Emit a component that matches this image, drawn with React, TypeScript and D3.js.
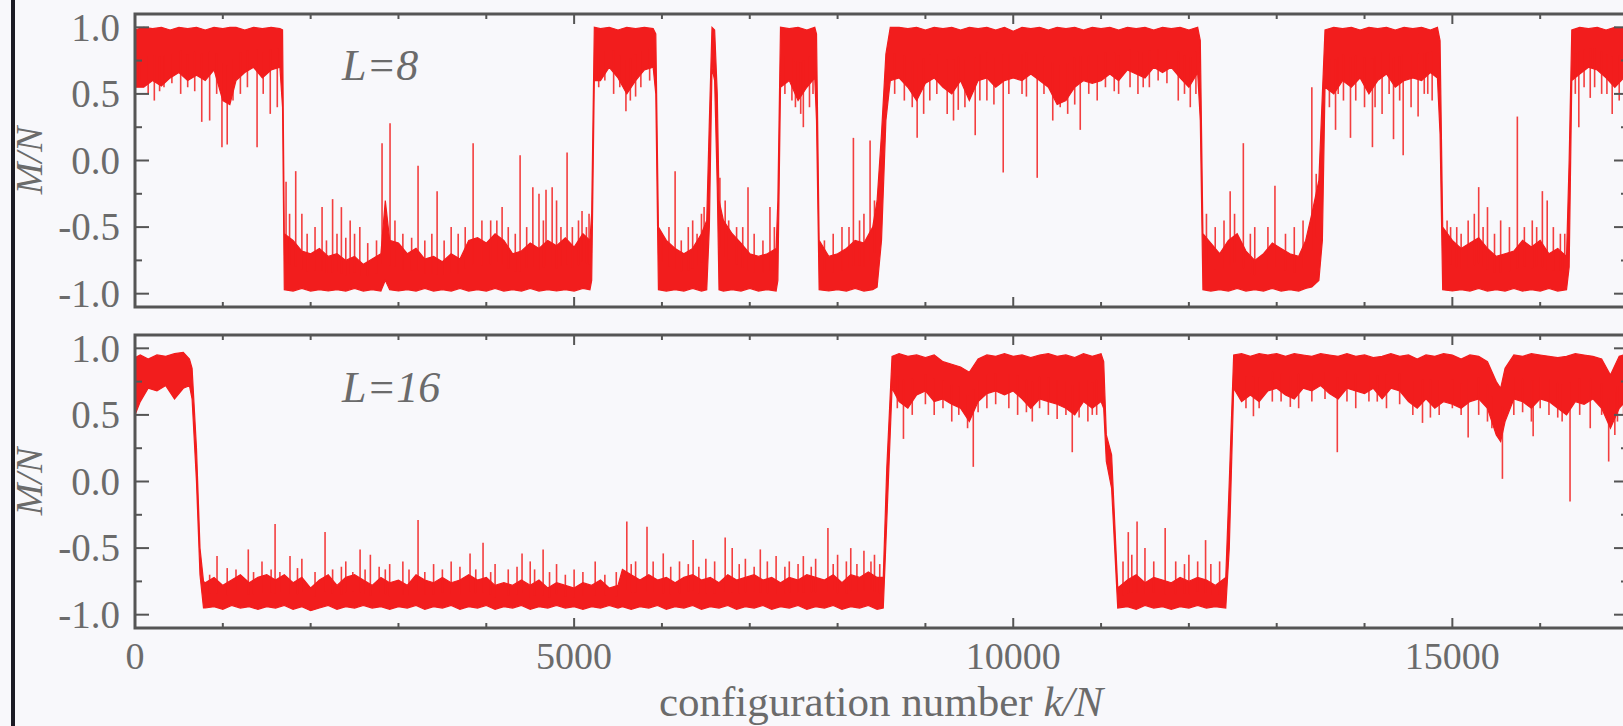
import React from "react";
import * as d3 from "d3";

// k/N positions of the labelled ticks and the y tick labels
const kTickLabels = [0, 5000, 10000, 15000];
const mTickLabels = ["-1.0", "-0.5", "0.0", "0.5", "1.0"];

// L=8 trace: [k/N, low edge, high edge] of the dense band
const l8Band: [number, number, number][] = [
  [0, 0.55, 0.98], [100, 0.55, 1.0], [200, 0.6, 0.99], [300, 0.56, 1.0], [400, 0.62, 0.98],
  [500, 0.66, 1.0], [600, 0.6, 0.99], [700, 0.64, 1.0], [800, 0.6, 0.98], [900, 0.68, 1.0],
  [1000, 0.45, 0.99], [1080, 0.42, 1.0], [1150, 0.6, 1.0], [1250, 0.66, 0.98], [1350, 0.7, 1.0],
  [1450, 0.62, 0.99], [1550, 0.68, 1.0], [1650, 0.7, 0.99], [1680, 0.4, 0.98],
  [1700, -0.97, -0.55], [1800, -0.98, -0.6], [1900, -0.96, -0.68], [2000, -0.98, -0.7],
  [2100, -0.97, -0.66], [2200, -0.98, -0.72], [2300, -0.97, -0.7], [2400, -0.98, -0.75],
  [2500, -0.96, -0.72], [2600, -0.98, -0.78], [2700, -0.97, -0.74], [2800, -0.98, -0.7],
  [2850, -0.9, -0.3], [2900, -0.97, -0.6], [3000, -0.98, -0.62], [3100, -0.97, -0.7],
  [3200, -0.98, -0.66], [3300, -0.96, -0.74], [3400, -0.98, -0.72], [3500, -0.97, -0.76],
  [3600, -0.98, -0.7], [3700, -0.96, -0.74], [3800, -0.98, -0.6], [3900, -0.97, -0.58],
  [4000, -0.98, -0.62], [4100, -0.96, -0.55], [4200, -0.98, -0.6], [4300, -0.97, -0.7],
  [4400, -0.98, -0.68], [4500, -0.96, -0.62], [4600, -0.98, -0.66], [4700, -0.97, -0.6],
  [4800, -0.98, -0.64], [4900, -0.97, -0.58], [5000, -0.98, -0.65], [5100, -0.96, -0.55],
  [5180, -0.97, -0.6], [5200, -0.9, -0.4],
  [5230, 0.6, 1.0], [5300, 0.6, 0.99], [5400, 0.7, 1.0], [5500, 0.62, 0.98], [5600, 0.5, 1.0],
  [5700, 0.6, 0.99], [5800, 0.68, 1.0], [5900, 0.7, 0.99], [5930, 0.5, 0.95],
  [5960, -0.97, -0.5], [6050, -0.98, -0.6], [6150, -0.97, -0.66], [6250, -0.98, -0.7],
  [6350, -0.96, -0.66], [6450, -0.98, -0.55], [6510, -0.97, -0.45],
  [6540, -0.5, 0.3], [6570, 0.7, 1.0], [6600, 0.6, 0.98], [6630, -0.2, 0.5],
  [6650, -0.97, -0.3], [6700, -0.98, -0.45], [6800, -0.97, -0.55], [6900, -0.98, -0.62],
  [7000, -0.96, -0.7], [7100, -0.98, -0.72], [7200, -0.97, -0.7], [7300, -0.98, -0.66],
  [7320, -0.9, -0.3],
  [7350, 0.55, 1.0], [7450, 0.6, 0.99], [7550, 0.45, 1.0], [7650, 0.55, 0.98], [7740, 0.62, 1.0],
  [7760, 0.3, 0.95],
  [7790, -0.97, -0.6], [7900, -0.98, -0.72], [8000, -0.97, -0.7], [8100, -0.98, -0.66],
  [8200, -0.96, -0.6], [8300, -0.98, -0.62], [8400, -0.97, -0.5], [8450, -0.95, -0.3],
  [8500, -0.6, 0.2], [8550, 0.3, 0.8],
  [8600, 0.6, 1.0], [8700, 0.62, 1.0], [8800, 0.55, 0.99], [8900, 0.45, 1.0], [9000, 0.58, 0.98],
  [9100, 0.62, 1.0], [9200, 0.55, 0.99], [9300, 0.5, 1.0], [9400, 0.6, 0.98], [9500, 0.45, 1.0],
  [9600, 0.6, 0.99], [9700, 0.62, 1.0], [9800, 0.55, 0.98], [9900, 0.6, 1.0], [10000, 0.62, 0.97],
  [10100, 0.6, 1.0], [10200, 0.65, 0.99], [10300, 0.6, 1.0], [10400, 0.55, 0.98], [10500, 0.42, 1.0],
  [10600, 0.45, 0.99], [10700, 0.55, 1.0], [10800, 0.6, 0.98], [10900, 0.58, 1.0], [11000, 0.6, 0.99],
  [11100, 0.65, 1.0], [11200, 0.6, 0.98], [11300, 0.68, 1.0], [11400, 0.65, 0.99], [11500, 0.62, 1.0],
  [11600, 0.7, 0.98], [11700, 0.66, 1.0], [11800, 0.7, 0.99], [11900, 0.62, 1.0], [12000, 0.55, 0.98],
  [12100, 0.66, 1.0], [12130, 0.3, 0.9],
  [12160, -0.97, -0.55], [12250, -0.98, -0.62], [12350, -0.97, -0.7], [12450, -0.98, -0.6],
  [12550, -0.96, -0.55], [12650, -0.98, -0.68], [12750, -0.97, -0.75], [12850, -0.98, -0.7],
  [12950, -0.96, -0.62], [13050, -0.98, -0.66], [13150, -0.97, -0.7], [13250, -0.98, -0.72],
  [13330, -0.96, -0.6], [13400, -0.95, -0.4], [13480, -0.9, -0.15], [13520, -0.6, 0.5],
  [13550, 0.55, 0.98], [13650, 0.5, 1.0], [13750, 0.6, 0.99], [13850, 0.55, 1.0], [13950, 0.62, 0.98],
  [14050, 0.5, 1.0], [14150, 0.6, 0.99], [14250, 0.65, 1.0], [14350, 0.55, 0.98], [14450, 0.6, 1.0],
  [14550, 0.62, 0.99], [14650, 0.6, 1.0], [14750, 0.66, 0.98], [14830, 0.62, 1.0], [14860, 0.2, 0.9],
  [14890, -0.97, -0.5], [15000, -0.98, -0.6], [15100, -0.97, -0.66], [15200, -0.98, -0.62],
  [15300, -0.96, -0.58], [15400, -0.98, -0.66], [15500, -0.97, -0.72], [15600, -0.98, -0.7],
  [15700, -0.96, -0.68], [15800, -0.98, -0.6], [15900, -0.97, -0.65], [16000, -0.98, -0.6],
  [16100, -0.96, -0.7], [16200, -0.98, -0.66], [16300, -0.97, -0.72], [16330, -0.8, 0.0],
  [16360, 0.6, 0.98], [16450, 0.65, 1.0], [16550, 0.7, 0.99], [16650, 0.68, 1.0], [16750, 0.62, 0.98],
  [16850, 0.55, 1.0], [16950, 0.62, 0.99], [17000, 0.65, 1.0],
];

// L=8 large excursions: [k/N, extreme M/N]
const l8Spikes: [number, number][] = [
  [150, 0.5], [280, 0.52], [760, 0.29], [850, 0.3], [990, 0.1], [1050, 0.12], [1116, 0.45],
  [1390, 0.1], [1540, 0.35], [1620, 0.4],
  [1720, -0.16], [1830, -0.08], [1900, -0.4], [2130, -0.35], [2250, -0.29], [2350, -0.35],
  [2450, -0.45], [2560, -0.5], [2813, 0.13], [2904, 0.28], [3223, -0.04], [3440, -0.23],
  [3600, -0.5], [3850, 0.13], [4050, -0.45], [4180, -0.35], [4385, 0.04], [4530, -0.2],
  [4600, -0.25], [4680, -0.22], [4750, -0.2], [4800, -0.3], [4920, 0.06], [5090, -0.38], [5170, -0.4],
  [5450, 0.5], [5590, 0.37], [5700, 0.48],
  [6150, -0.08], [6350, -0.45], [6450, -0.4],
  [6660, -0.13], [6720, -0.3], [6850, -0.5], [6980, -0.2], [7230, -0.35],
  [7480, 0.45], [7610, 0.25], [7680, 0.4],
  [7950, -0.55], [8050, -0.5], [8180, 0.17], [8300, -0.4], [8370, 0.15],
  [8906, 0.17], [8980, 0.35], [9248, 0.35], [9374, 0.38], [9567, 0.19], [9700, 0.45], [9886, -0.09],
  [10100, 0.5], [10273, -0.13], [10535, 0.4], [10620, 0.35], [10763, 0.23], [10956, 0.45],
  [11200, 0.5], [11480, 0.55], [11879, 0.45], [12016, 0.4],
  [12200, -0.4], [12470, -0.23], [12620, 0.13], [12750, -0.5], [12980, -0.19], [13200, -0.5], [13400, 0.55],
  [13670, 0.23], [13760, 0.45], [13840, 0.17], [14000, 0.4], [14090, 0.1], [14200, 0.35], [14330, 0.16],
  [14440, 0.04], [14530, 0.4], [14610, 0.33], [14770, 0.45],
  [14980, -0.5], [15100, -0.55], [15300, -0.2], [15400, -0.35], [15550, -0.45], [15740, 0.33],
  [15910, -0.45], [16025, -0.23], [16080, -0.3], [16230, -0.55],
  [16440, 0.25], [16570, 0.47], [16700, 0.5], [16820, 0.35], [16900, 0.45],
];

// L=8 small flickers off the band edge
const l8Flicker: [number, number][] = [
  [50, 0.6], [220, 0.45], [330, 0.55], [420, 0.58], [520, 0.5], [600, 0.55], [680, 0.52], [930, 0.5],
  [1200, 0.5], [1280, 0.55], [1460, 0.5],
  [1760, -0.4], [1960, -0.55], [2050, -0.5], [2180, -0.6], [2300, -0.55], [2400, -0.58], [2500, -0.55],
  [2650, -0.62], [2750, -0.6], [2960, -0.45], [3050, -0.55], [3150, -0.58], [3300, -0.6], [3380, -0.55],
  [3520, -0.6], [3680, -0.55], [3760, -0.5], [3950, -0.45], [4120, -0.45], [4250, -0.5], [4330, -0.55],
  [4460, -0.5], [4650, -0.45], [4850, -0.5], [4980, -0.5], [5050, -0.45], [5140, -0.5],
  [5280, 0.55], [5350, 0.6], [5520, 0.55], [5640, 0.45], [5760, 0.55], [5860, 0.6],
  [6000, -0.55], [6080, -0.5], [6220, -0.6], [6300, -0.5], [6400, -0.55], [6480, -0.35],
  [6760, -0.45], [6920, -0.5], [7050, -0.55], [7150, -0.6], [7280, -0.5],
  [7400, 0.5], [7520, 0.4], [7580, 0.35], [7720, 0.5],
  [7850, -0.6], [8130, -0.5], [8250, -0.45], [8420, -0.3],
  [8650, 0.5], [8760, 0.45], [8850, 0.4], [9050, 0.45], [9130, 0.5], [9320, 0.3], [9450, 0.4],
  [9620, 0.45], [9780, 0.42], [9950, 0.5], [10150, 0.48], [10350, 0.5], [10450, 0.3], [10700, 0.42],
  [10860, 0.5], [11050, 0.55], [11150, 0.52], [11330, 0.55], [11420, 0.5], [11550, 0.55], [11650, 0.6],
  [11750, 0.58], [11950, 0.5], [12080, 0.5],
  [12300, -0.5], [12400, -0.45], [12520, -0.4], [12700, -0.55], [12900, -0.5], [13100, -0.55],
  [13300, -0.45], [13450, -0.1],
  [13600, 0.4], [13700, 0.5], [13900, 0.45], [14120, 0.4], [14280, 0.5], [14400, 0.45], [14680, 0.5],
  [14720, 0.5],
  [14940, -0.45], [15050, -0.5], [15180, -0.45], [15250, -0.4], [15350, -0.5], [15480, -0.55],
  [15650, -0.5], [15820, -0.5], [15960, -0.5], [16150, -0.5], [16280, -0.55],
  [16400, 0.5], [16500, 0.55], [16620, 0.55], [16760, 0.5], [16960, 0.5],
];

// L=16 trace: [k/N, low edge, high edge]
const l16Band: [number, number, number][] = [
  [0, 0.5, 0.93], [60, 0.6, 0.95], [150, 0.7, 0.92], [250, 0.68, 0.95], [350, 0.72, 0.94],
  [450, 0.62, 0.96], [550, 0.7, 0.97], [620, 0.72, 0.92], [650, 0.62, 0.85],
  [700, 0.0, 0.25], [740, -0.7, -0.5], [780, -0.95, -0.75],
  [800, -0.95, -0.76], [900, -0.94, -0.72], [1000, -0.96, -0.78], [1100, -0.93, -0.74],
  [1200, -0.95, -0.7], [1300, -0.94, -0.76], [1400, -0.96, -0.72], [1500, -0.94, -0.7],
  [1600, -0.95, -0.74], [1700, -0.93, -0.7], [1800, -0.96, -0.76], [1900, -0.94, -0.72],
  [2000, -0.97, -0.8], [2100, -0.95, -0.74], [2200, -0.93, -0.7], [2300, -0.96, -0.78],
  [2400, -0.94, -0.72], [2500, -0.95, -0.7], [2600, -0.93, -0.74], [2700, -0.95, -0.78],
  [2800, -0.94, -0.72], [2900, -0.96, -0.76], [3000, -0.94, -0.74], [3100, -0.95, -0.78],
  [3200, -0.93, -0.7], [3300, -0.96, -0.74], [3400, -0.94, -0.76], [3500, -0.95, -0.72],
  [3600, -0.93, -0.76], [3700, -0.96, -0.74], [3800, -0.94, -0.7], [3900, -0.95, -0.74],
  [4000, -0.93, -0.72], [4100, -0.96, -0.78], [4200, -0.94, -0.76], [4300, -0.95, -0.78],
  [4400, -0.93, -0.74], [4500, -0.96, -0.78], [4600, -0.94, -0.74], [4700, -0.95, -0.8],
  [4800, -0.93, -0.76], [4900, -0.95, -0.78], [5000, -0.94, -0.8], [5100, -0.96, -0.76],
  [5200, -0.94, -0.78], [5300, -0.95, -0.74], [5400, -0.93, -0.8], [5500, -0.95, -0.78],
  [5550, -0.94, -0.66], [5650, -0.96, -0.7], [5750, -0.94, -0.74], [5850, -0.95, -0.7],
  [5950, -0.93, -0.74], [6050, -0.96, -0.72], [6150, -0.94, -0.76], [6250, -0.95, -0.72],
  [6350, -0.93, -0.7], [6450, -0.96, -0.74], [6550, -0.94, -0.72], [6650, -0.95, -0.76],
  [6750, -0.93, -0.7], [6850, -0.96, -0.74], [6950, -0.94, -0.72], [7050, -0.95, -0.7],
  [7150, -0.93, -0.74], [7250, -0.96, -0.72], [7350, -0.94, -0.76], [7450, -0.95, -0.72],
  [7550, -0.93, -0.74], [7650, -0.96, -0.7], [7750, -0.94, -0.72], [7850, -0.95, -0.74],
  [7950, -0.93, -0.7], [8050, -0.96, -0.76], [8150, -0.94, -0.7], [8250, -0.95, -0.72],
  [8350, -0.93, -0.68], [8450, -0.96, -0.72], [8520, -0.95, -0.72],
  [8560, -0.3, 0.1], [8620, 0.7, 0.94],
  [8700, 0.6, 0.96], [8800, 0.55, 0.94], [8900, 0.65, 0.95], [9000, 0.68, 0.93], [9100, 0.6, 0.95],
  [9200, 0.62, 0.9], [9300, 0.58, 0.88], [9400, 0.55, 0.86], [9500, 0.45, 0.82], [9600, 0.6, 0.92],
  [9700, 0.66, 0.95], [9800, 0.68, 0.94], [9900, 0.65, 0.96], [10000, 0.68, 0.94], [10100, 0.62, 0.95],
  [10200, 0.55, 0.93], [10300, 0.62, 0.95], [10400, 0.6, 0.96], [10500, 0.58, 0.94], [10600, 0.55, 0.95],
  [10700, 0.5, 0.93], [10800, 0.6, 0.96], [10900, 0.55, 0.94], [11000, 0.6, 0.96], [11030, 0.55, 0.9],
  [11060, 0.15, 0.35], [11120, -0.05, 0.2], [11190, -0.95, -0.8],
  [11300, -0.94, -0.74], [11400, -0.96, -0.7], [11500, -0.93, -0.76], [11600, -0.95, -0.72],
  [11700, -0.94, -0.74], [11800, -0.96, -0.76], [11900, -0.94, -0.72], [12000, -0.95, -0.75],
  [12100, -0.93, -0.72], [12200, -0.95, -0.74], [12300, -0.94, -0.78], [12420, -0.95, -0.72],
  [12460, -0.5, 0.0], [12510, 0.7, 0.95],
  [12600, 0.6, 0.96], [12700, 0.65, 0.94], [12800, 0.6, 0.96], [12900, 0.68, 0.95], [13000, 0.7, 0.96],
  [13100, 0.65, 0.94], [13200, 0.62, 0.96], [13300, 0.7, 0.95], [13400, 0.68, 0.94], [13500, 0.72, 0.96],
  [13600, 0.66, 0.95], [13700, 0.62, 0.94], [13800, 0.7, 0.96], [13900, 0.68, 0.94], [14000, 0.66, 0.95],
  [14100, 0.7, 0.93], [14200, 0.62, 0.94], [14300, 0.7, 0.96], [14400, 0.68, 0.94], [14500, 0.6, 0.95],
  [14600, 0.55, 0.92], [14700, 0.62, 0.95], [14800, 0.55, 0.94], [14900, 0.6, 0.96], [15000, 0.58, 0.95],
  [15100, 0.55, 0.92], [15200, 0.6, 0.95], [15300, 0.62, 0.94], [15400, 0.55, 0.9], [15500, 0.35, 0.75],
  [15550, 0.3, 0.7], [15600, 0.45, 0.85], [15700, 0.62, 0.95], [15800, 0.6, 0.94], [15900, 0.55, 0.96],
  [16000, 0.62, 0.95], [16100, 0.6, 0.94], [16200, 0.55, 0.93], [16300, 0.5, 0.94], [16400, 0.6, 0.96],
  [16500, 0.58, 0.95], [16600, 0.62, 0.94], [16700, 0.55, 0.92], [16800, 0.4, 0.8], [16900, 0.55, 0.94],
  [17000, 0.62, 0.96],
];

// L=16 large excursions: [k/N, extreme M/N]
const l16Spikes: [number, number][] = [
  [934, -0.56], [1290, -0.51], [1446, -0.6], [1595, -0.32], [1765, -0.56], [1900, -0.58],
  [2164, -0.38], [2400, -0.6], [2563, -0.51], [2680, -0.55], [2900, -0.62], [3050, -0.6],
  [3223, -0.29], [3400, -0.62], [3600, -0.6], [3815, -0.54], [3963, -0.46], [4100, -0.62],
  [4407, -0.54], [4500, -0.6], [4647, -0.51], [4800, -0.62], [5000, -0.66], [5240, -0.6],
  [5600, -0.3], [5700, -0.6], [5830, -0.34], [6015, -0.54], [6200, -0.6], [6355, -0.44],
  [6500, -0.58], [6720, -0.42], [6800, -0.5], [6950, -0.58], [7120, -0.51], [7300, -0.56],
  [7450, -0.6], [7610, -0.56], [7750, -0.58], [7890, -0.35], [8000, -0.55], [8150, -0.5],
  [8300, -0.52], [8420, -0.55],
  [8750, 0.32], [9100, 0.5], [9300, 0.45], [9480, 0.4], [9545, 0.11], [9700, 0.55], [10050, 0.5],
  [10217, 0.45], [10400, 0.5], [10500, 0.47], [10672, 0.22], [10850, 0.45], [10950, 0.5],
  [11310, -0.38], [11410, -0.3], [11500, -0.5], [11730, -0.35], [11850, -0.6], [12000, -0.55],
  [12190, -0.44], [12350, -0.6],
  [12735, 0.49], [12800, 0.55], [13155, 0.56], [13400, 0.6], [13690, 0.22], [13900, 0.55],
  [14145, 0.6], [14400, 0.58], [14660, 0.44], [14850, 0.5], [15000, 0.55], [15180, 0.33],
  [15300, 0.5], [15570, 0.02], [15700, 0.5], [15920, 0.34], [16100, 0.5], [16250, 0.45],
  [16340, -0.15], [16450, 0.5], [16570, 0.4], [16780, 0.15], [16850, 0.35], [16950, 0.5],
];

// L=16 small flickers off the band edge
const l16Flicker: [number, number][] = [
  [850, -0.7], [1050, -0.65], [1150, -0.66], [1350, -0.68], [1550, -0.66], [1650, -0.68], [1850, -0.65],
  [2050, -0.68], [2250, -0.66], [2350, -0.64], [2480, -0.68], [2620, -0.66], [2780, -0.64], [2850, -0.66],
  [3120, -0.66], [3300, -0.68], [3500, -0.66], [3700, -0.64], [3880, -0.66], [4050, -0.68], [4250, -0.66],
  [4350, -0.64], [4550, -0.66], [4720, -0.68], [4900, -0.7], [5100, -0.68], [5350, -0.7], [5480, -0.68],
  [5650, -0.62], [5900, -0.6], [6100, -0.64], [6300, -0.62], [6420, -0.64], [6600, -0.6], [6880, -0.62],
  [7050, -0.64], [7200, -0.6], [7400, -0.64], [7550, -0.62], [7700, -0.64], [7950, -0.62], [8100, -0.6],
  [8220, -0.62], [8380, -0.6], [8480, -0.62],
  [8680, 0.55], [8850, 0.5], [9000, 0.58], [9200, 0.55], [9380, 0.5], [9600, 0.52], [9800, 0.58],
  [9950, 0.55], [10150, 0.52], [10300, 0.55], [10600, 0.5], [10750, 0.48], [10900, 0.5],
  [11250, -0.6], [11350, -0.55], [11600, -0.6], [11950, -0.62], [12100, -0.6], [12250, -0.62],
  [12650, 0.55], [12950, 0.6], [13050, 0.6], [13250, 0.55], [13550, 0.62], [13800, 0.6], [14050, 0.6],
  [14250, 0.55], [14550, 0.5], [14750, 0.48], [15100, 0.5], [15400, 0.45], [15450, 0.4], [15800, 0.52],
  [15900, 0.45], [16000, 0.55], [16200, 0.48], [16700, 0.5], [16880, 0.45],
];

const RED = "#f21d1d";
const TEXT = "#6b6b6b";
const AXIS = "#555555";
const FONT = "'Liberation Serif', 'Times New Roman', serif";

const x = d3.scaleLinear().domain([0, 17000]).range([135, 1628]);

type Row = [number, number, number];

function Panel({ id, band, spikes, top, bottom, label, labelY, showK }: {
  id: string; band: Row[]; spikes: [number, number][]; top: number; bottom: number;
  label: string; labelY: number; showK: boolean;
}) {
  const y = d3.scaleLinear().domain([-1.1, 1.1]).range([bottom, top]);
  const area = d3.area<Row>().x((d) => x(d[0])).y0((d) => y(d[1])).y1((d) => y(d[2]));
  const bis = d3.bisector((d: Row) => d[0]).left;
  // band middle at k, so an excursion starts inside the band
  const mid = (k: number) => {
    const i = Math.max(1, Math.min(band.length - 1, bis(band, k)));
    const a = band[i - 1], b = band[i];
    const t = (k - a[0]) / (b[0] - a[0]);
    return ((a[1] + a[2]) / 2) * (1 - t) + ((b[1] + b[2]) / 2) * t;
  };
  const [x0, x1] = x.range();
  const kMinor = d3.range(0, 17001, 1000);
  const mMinor = d3.range(-1, 1.001, 0.25);

  return (
    <g>
      <clipPath id={id}>
        <rect x={x0} y={top} width={x1 - x0} height={bottom - top} />
      </clipPath>
      <g clipPath={`url(#${id})`}>
        <path d={area(band) ?? ""} fill={RED} stroke={RED} strokeWidth={1.2} />
        {spikes.map(([k, v], i) => (
          <line key={i} x1={x(k)} x2={x(k)} y1={y(mid(k))} y2={y(v)}
            stroke={RED} strokeWidth={1.6} strokeOpacity={0.85} />
        ))}
      </g>
      <rect x={x0} y={top} width={x1 - x0} height={bottom - top} fill="none" stroke={AXIS} strokeWidth={3} />
      {kMinor.map((k) => {
        const len = k % 5000 === 0 ? 10 : 5;
        return (
          <g key={k} stroke={AXIS} strokeWidth={2}>
            <line x1={x(k)} x2={x(k)} y1={bottom} y2={bottom - len} />
            <line x1={x(k)} x2={x(k)} y1={top} y2={top + len} />
          </g>
        );
      })}
      {mMinor.map((m) => {
        const len = Math.abs((m * 2) % 1) < 1e-6 ? 14 : 7;
        return (
          <g key={m} stroke={AXIS} strokeWidth={2}>
            <line x1={x0} x2={x0 + len} y1={y(m)} y2={y(m)} />
            <line x1={x1} x2={x1 - len} y1={y(m)} y2={y(m)} />
          </g>
        );
      })}
      {mTickLabels.map((t) => (
        <text key={t} x={120} y={y(+t)} dy="0.34em" textAnchor="end" fontSize={39}
          fontFamily={FONT} fill={TEXT}>{t}</text>
      ))}
      {showK && kTickLabels.map((k) => (
        <text key={k} x={x(k)} y={669} textAnchor="middle" fontSize={38}
          fontFamily={FONT} fill={TEXT}>{k}</text>
      ))}
      <text x={342} y={labelY} fontSize={44} fontStyle="italic" fontFamily={FONT} fill={TEXT}>{label}</text>
      <text transform={`translate(42,${(top + bottom) / 2}) rotate(-90)`} textAnchor="middle"
        fontSize={38} fontStyle="italic" fontFamily={FONT} fill={TEXT}>M/N</text>
    </g>
  );
}

export default function App() {
  return (
    <svg width={1623} height={726} style={{ position: "absolute", left: 0, top: 0, display: "block" }}>
      <rect width={1623} height={726} fill="#f8f8fb" />
      <rect x={11} y={0} width={4} height={726} fill="#1b1b24" />
      <Panel id="clipL8" band={l8Band} spikes={[...l8Spikes, ...l8Flicker]} top={14} bottom={307}
        label="L=8" labelY={80} showK={false} />
      <Panel id="clipL16" band={l16Band} spikes={[...l16Spikes, ...l16Flicker]} top={335} bottom={628}
        label="L=16" labelY={402} showK={true} />
      <text x={881} y={716} textAnchor="middle" fontSize={43} fontFamily={FONT} fill={TEXT}>
        configuration number <tspan fontStyle="italic">k/N</tspan>
      </text>
    </svg>
  );
}
